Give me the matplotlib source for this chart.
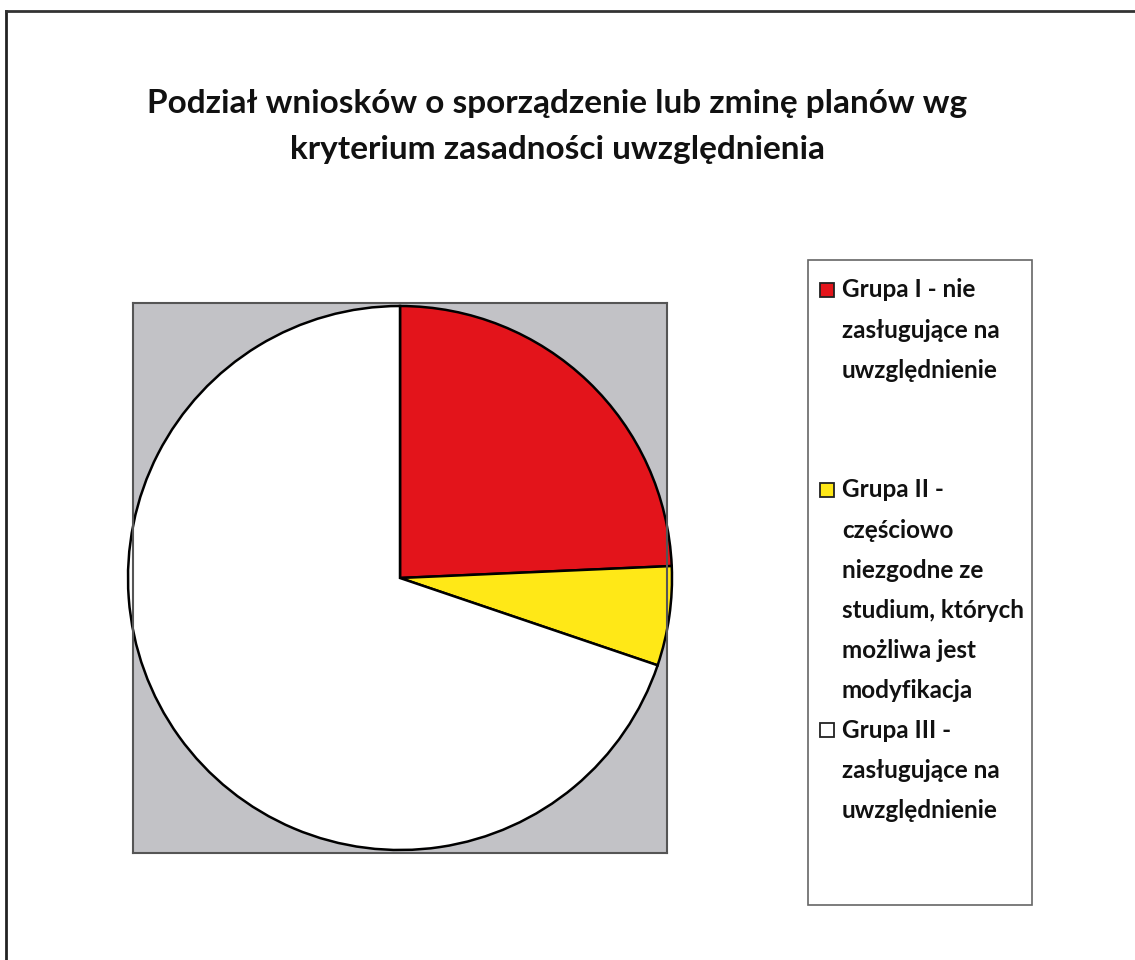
import matplotlib
matplotlib.use("Agg")
import matplotlib.pyplot as plt
from matplotlib.patches import Rectangle

categories = ["Grupa I - nie\nzasługujące na\nuwzględnienie",
              "Grupa II -\nczęściowo\nniezgodne ze\nstudium, których\nmożliwa jest\nmodyfikacja",
              "Grupa III -\nzasługujące na\nuwzględnienie"]
values = [24.3, 5.9, 69.8]
colors = ["#e3141b", "#ffe817", "#ffffff"]
title = "Podział wniosków o sporządzenie lub zminę planów wg\nkryterium zasadności uwzględnienia"

W, H = 1135, 960
fig = plt.figure(figsize=(W/100, H/100), dpi=100)
fig.patch.set_facecolor("white")
plt.rcParams['font.family'] = ['Lato', 'DejaVu Sans']

def fx(x): return x / W
def fy(y): return 1 - y / H

# outer frame (left and top lines)
fig.add_artist(plt.Line2D([fx(6), fx(6)], [fy(11), fy(960)], color="#222222", lw=2))
fig.add_artist(plt.Line2D([fx(6), fx(1135)], [fy(11), fy(11)], color="#333333", lw=2))

# title
fig.text(fx(557), fy(103), title.split("\n")[0], ha="center", va="center", fontsize=24,
         fontweight="bold", color="#111111")
fig.text(fx(557), fy(150), title.split("\n")[1], ha="center", va="center", fontsize=24,
         fontweight="bold", color="#111111")

# plot area
left, right, top, bot = 133, 667, 303, 853
ax = fig.add_axes([fx(left), fy(bot), (right-left)/W, (bot-top)/H])
ax.set_facecolor("#c2c2c6")
R = 272.0
cx, cy = 400, 578
ax.pie(values, colors=colors, startangle=90, counterclock=False,
       wedgeprops=dict(edgecolor="black", linewidth=1.8), radius=1.0)
ax.set_aspect("auto")
ax.set_xlim((left-cx)/R, (right-cx)/R)
ax.set_ylim((cy-bot)/R, (cy-top)/R)
ax.set_frame_on(True)
for s in ax.spines.values():
    s.set_color("#555555"); s.set_linewidth(1.5)
ax.set_xticks([]); ax.set_yticks([])

# legend box
lx0, lx1, ly0, ly1 = 808, 1032, 260, 905
fig.add_artist(Rectangle((fx(lx0), fy(ly1)), (lx1-lx0)/W, (ly1-ly0)/H,
                         transform=fig.transFigure, fill=False,
                         edgecolor="#666666", lw=1.2))
entry_y = [290, 490, 730]
line_h = 40
for lab, col, y0 in zip(categories, colors, entry_y):
    fig.add_artist(Rectangle((fx(820), fy(y0+7)), 14/W, 14/H,
                             transform=fig.transFigure, facecolor=col,
                             edgecolor="#222222", lw=1.3))
    for i, line in enumerate(lab.split("\n")):
        fig.text(fx(842), fy(y0 + i*line_h), line, ha="left", va="center",
                 fontsize=17.5, fontweight="bold", color="#111111")

fig.savefig("out.png", dpi=100)
